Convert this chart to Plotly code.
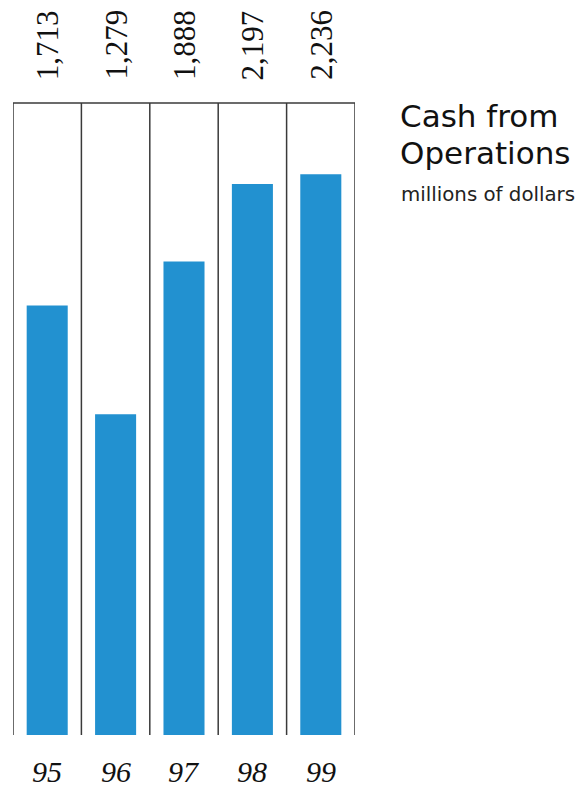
import plotly.graph_objects as go

# Cash from operations, millions of dollars
years = ["95", "96", "97", "98", "99"]
cash = [1713, 1279, 1888, 2197, 2236]
value_labels = ["1,713", "1,279", "1,888", "2,197", "2,236"]

W, H = 576, 788
L, R, T, B = 13, 355, 103, 735  # plot area in pixels
bar_color = "#2291D0"
line_color = "#3a3a3a"


def px_x(px):
    return (px - L) / (R - L)


def px_y(py):
    return (B - py) / (B - T)


x = list(range(len(years)))

fig = go.Figure(
    go.Bar(
        x=x,
        y=cash,
        width=0.6,
        marker=dict(color=bar_color, line=dict(width=0)),
        hoverinfo="skip",
    )
)

shapes = []
# column dividers
for i in range(len(years) + 1):
    xv = i - 0.5
    shapes.append(dict(type="line", xref="x", yref="paper", x0=xv, x1=xv,
                       y0=0, y1=1, line=dict(color=line_color, width=1.5)))
# top rule
shapes.append(dict(type="line", xref="x", yref="paper", x0=-0.5, x1=len(years) - 0.5,
                   y0=1, y1=1, line=dict(color=line_color, width=1.5)))

annotations = []
serif = "Liberation Serif, DejaVu Serif, serif"
for i, (yr, lab) in enumerate(zip(years, value_labels)):
    annotations.append(dict(x=i, y=1, xref="x", yref="paper", text=lab,
                            textangle=-90, showarrow=False, xanchor="center",
                            yanchor="bottom", yshift=21,
                            font=dict(family=serif, size=31, color="#111")))
    annotations.append(dict(x=i, y=0, xref="x", yref="paper",
                            text="<i>" + yr + "</i>", showarrow=False,
                            xanchor="center", yanchor="middle", yshift=-36,
                            font=dict(family=serif, size=30, color="#111")))

sans = "DejaVu Sans, Verdana, sans-serif"
annotations += [
    dict(x=px_x(398), y=px_y(116), xref="paper", yref="paper", text="Cash from",
         showarrow=False, xanchor="left", yanchor="middle",
         font=dict(family=sans, size=31, color="#111")),
    dict(x=px_x(398), y=px_y(153), xref="paper", yref="paper", text="Operations",
         showarrow=False, xanchor="left", yanchor="middle",
         font=dict(family=sans, size=31, color="#111")),
    dict(x=px_x(399), y=px_y(194), xref="paper", yref="paper", text="millions of dollars",
         showarrow=False, xanchor="left", yanchor="middle",
         font=dict(family=sans, size=19.8, color="#222")),
]

fig.update_layout(
    width=W, height=H,
    margin=dict(l=L, r=W - R, t=T, b=H - B, pad=0),
    paper_bgcolor="white", plot_bgcolor="white",
    showlegend=False,
    xaxis=dict(range=[-0.5, len(years) - 0.5], visible=False, fixedrange=True),
    yaxis=dict(range=[0, 2520], visible=False, fixedrange=True),
    shapes=shapes,
    annotations=annotations,
)

fig.write_html("out.html", config={"displayModeBar": False})
